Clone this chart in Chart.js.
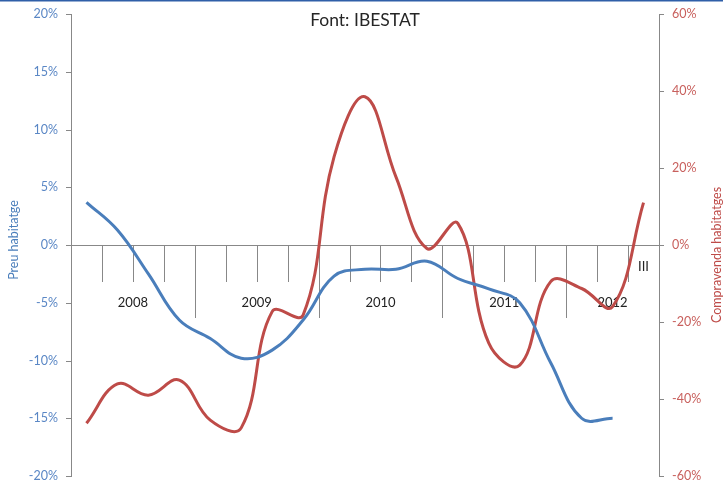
<!DOCTYPE html>
<html><head><meta charset="utf-8">
<script src="https://cdn.jsdelivr.net/npm/chart.js@4.4.0/dist/chart.umd.min.js"></script>
<style>html,body{margin:0;padding:0;background:#fff;overflow:hidden}#wrap{width:723px;height:483px;position:relative}</style>
</head><body><div id="wrap"><canvas id="c" width="723" height="483"></canvas></div>
<script>
const quarters = ["2008 I","2008 II","2008 III","2008 IV","2009 I","2009 II","2009 III","2009 IV","2010 I","2010 II","2010 III","2010 IV","2011 I","2011 II","2011 III","2011 IV","2012 I","2012 II","2012 III"];
const quarterTickLabels = ["","","","","","","","","","","","","","","","","","","III"];
const years = ["2008","2009","2010","2011","2012"];
const quartersPerYear = [4,4,4,4,3];
const preuHabitatge = [3.7, 1.3, -2.5, -6.5, -8.1, -9.8, -9.1, -6.5, -2.7, -2.1, -2.1, -1.4, -2.9, -3.8, -5.0, -10.2, -15.0, -15.0];
const compravendaHabitatges = [-46.3, -36.1, -39.0, -35.1, -45.5, -47.5, -17.3, -18.2, 22.9, 38.5, 17.7, -0.9, 5.6, -25.5, -31.2, -9.5, -11.3, -16.0, 11.0];
const leftTicks = [-20, -15, -10, -5, 0, 5, 10, 15, 20];
const rightTicks = [-60, -40, -20, 0, 20, 40, 60];
const leftAxisTitle = "Preu habitatge";
const rightAxisTitle = "Compravenda habitatges";
const chartTitle = "Font: IBESTAT";

const FONT = "Lato, 'Open Sans', sans-serif";
const BLUE = "#4a7ebb";
const RED = "#be4b48";
const AXIS = "#888888";

const decor = {
  id: 'decor',
  beforeDatasetsDraw(chart) {
    const ctx = chart.ctx, xs = chart.scales.x, ys = chart.scales.y, ys1 = chart.scales.y1, a = chart.chartArea;
    const y0 = ys.getPixelForValue(0);
    const step = xs.getPixelForValue(1) - xs.getPixelForValue(0);
    const bx = k => (k >= quarters.length ? a.right : xs.getPixelForValue(k) - step / 2);
    ctx.save();
    ctx.strokeStyle = AXIS; ctx.lineWidth = 1;
    // value-axis tick marks
    leftTicks.forEach(v => { const y = Math.round(ys.getPixelForValue(v)) + 0.5; ctx.beginPath(); ctx.moveTo(a.left - 5, y); ctx.lineTo(a.left, y); ctx.stroke(); });
    rightTicks.forEach(v => { const y = Math.round(ys1.getPixelForValue(v)) + 0.5; ctx.beginPath(); ctx.moveTo(a.right, y); ctx.lineTo(a.right + 5, y); ctx.stroke(); });
    // category axis at zero
    ctx.beginPath(); ctx.moveTo(a.left, Math.round(y0) + 0.5); ctx.lineTo(a.right, Math.round(y0) + 0.5); ctx.stroke();
    const yearStarts = []; let acc = 0;
    quartersPerYear.forEach(n => { yearStarts.push(acc); acc += n; });
    const longSet = new Set(yearStarts.concat([acc]));
    for (let k = 1; k <= quarters.length; k++) {
      const x = Math.round(bx(k)) + 0.5;
      const len = longSet.has(k) ? 73 : 37;
      ctx.beginPath(); ctx.moveTo(x, y0); ctx.lineTo(x, y0 + len); ctx.stroke();
    }
    ctx.fillStyle = "#222"; ctx.font = "13px " + FONT; ctx.textAlign = "center"; ctx.textBaseline = "middle";
    quarterTickLabels.forEach((t, i) => { if (t) ctx.fillText(t, xs.getPixelForValue(i), y0 + 22); });
    years.forEach((yr, i) => {
      const s = yearStarts[i], e = s + quartersPerYear[i];
      ctx.fillText(yr, (bx(s) + bx(e)) / 2, y0 + 58);
    });
    ctx.restore();
  },
  afterDraw(chart) {
    const ctx = chart.ctx;
    ctx.save();
    ctx.fillStyle = "#2f5fa8"; ctx.fillRect(0, 0, chart.width, 1.5);
    ctx.fillStyle = "#262626"; ctx.font = "17.5px " + FONT; ctx.textAlign = "center"; ctx.textBaseline = "middle";
    ctx.fillText(chartTitle, 365, 20);
    ctx.font = "12.5px " + FONT;
    ctx.translate(14, 240); ctx.rotate(-Math.PI / 2); ctx.fillStyle = BLUE; ctx.fillText(leftAxisTitle, 0, 0);
    ctx.restore();
    ctx.save();
    ctx.font = "12.5px " + FONT; ctx.textAlign = "center"; ctx.textBaseline = "middle";
    ctx.translate(717, 255); ctx.rotate(-Math.PI / 2); ctx.fillStyle = RED; ctx.fillText(rightAxisTitle, 0, 0);
    ctx.restore();
  }
};

new Chart(document.getElementById('c'), {
  type: 'line',
  data: {
    labels: quarters,
    datasets: [
      { label: leftAxisTitle, data: preuHabitatge, yAxisID: 'y', borderColor: BLUE, borderWidth: 3, pointRadius: 0, tension: 0.4, fill: false },
      { label: rightAxisTitle, data: compravendaHabitatges, yAxisID: 'y1', borderColor: RED, borderWidth: 3, pointRadius: 0, tension: 0.4, fill: false }
    ]
  },
  options: {
    responsive: false, animation: false,
    layout: { padding: { top: 14, bottom: 7, left: 0, right: 0 } },
    plugins: { legend: { display: false }, tooltip: { enabled: false } },
    scales: {
      x: { type: 'category', offset: true, display: false },
      y: {
        position: 'left', min: -20, max: 20,
        afterBuildTicks: s => { s.ticks = leftTicks.map(v => ({ value: v })); },
        ticks: { color: "#5a87c5", font: { family: FONT, size: 12.5, lineHeight: 1 }, padding: 0, callback: v => v + '%' },
        grid: { drawOnChartArea: false, drawTicks: true, tickLength: 13, tickColor: 'rgba(0,0,0,0)' },
        border: { display: true, color: AXIS },
        afterFit: s => { s.width = 71; }
      },
      y1: {
        position: 'right', min: -60, max: 60,
        afterBuildTicks: s => { s.ticks = rightTicks.map(v => ({ value: v })); },
        ticks: { color: "#c8605d", font: { family: FONT, size: 12.5, lineHeight: 1 }, padding: 0, callback: v => v + '%' },
        grid: { drawOnChartArea: false, drawTicks: true, tickLength: 13, tickColor: 'rgba(0,0,0,0)' },
        border: { display: true, color: AXIS },
        afterFit: s => { s.width = 64; }
      }
    }
  },
  plugins: [decor]
});
</script></body></html>
